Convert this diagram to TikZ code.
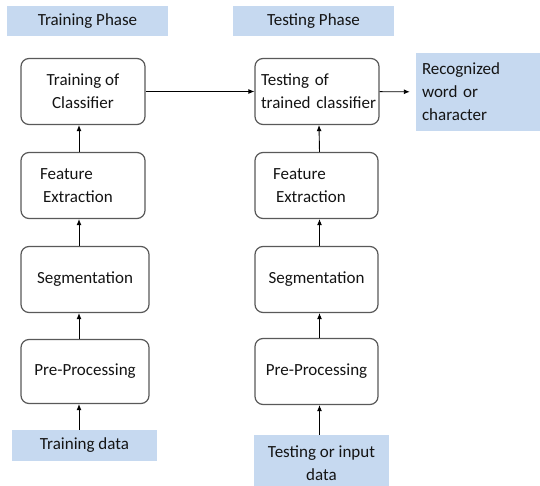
\documentclass[tikz,border=0pt]{standalone}
\usepackage{fontspec}
\setmainfont{Carlito}
\usepackage{tikz}
\usetikzlibrary{arrows.meta}

\definecolor{phaseblue}{RGB}{198,217,240}
\definecolor{boxline}{RGB}{89,89,89}
\definecolor{txt}{RGB}{20,20,20}

\tikzset{
  stepbox/.style={draw=boxline, line width=1.2pt, rounded corners=8pt, fill=white,
    minimum width=124pt, minimum height=66pt, align=center, text=txt,
    font=\fontsize{17}{23}\selectfont},
  phasebox/.style={fill=phaseblue, minimum width=161pt, minimum height=30pt,
    text=txt, font=\fontsize{17}{23}\selectfont},
  databox/.style={fill=phaseblue, align=center, text=txt,
    font=\fontsize{17}{23}\selectfont},
  flow/.style={-{Latex[length=6pt,width=5pt]}, line width=0.9pt, black}
}

\begin{document}
\begin{tikzpicture}[x=1pt, y=-1pt, node distance=94pt]
\useasboundingbox (0,0) rectangle (540,486);

\node [phasebox] (lphase) at (87.5,21) {Training Phase};
\node [phasebox] (rphase) at (313.5,21) {Testing Phase};

% training column
\node [stepbox] (ltrain) at (83,91.5) {Training of\\Classifier};
\node [stepbox, below of=ltrain, text width=86pt, inner xsep=19pt, align=left] (lfeat) {Feature\\\hspace*{3pt}Extraction};
\node [stepbox, below of=lfeat, xshift=2pt, minimum width=128pt] (lseg) {Segmentation};
\node [stepbox, below of=lseg, node distance=92pt, minimum width=128pt, minimum height=64pt] (lpre) {Pre-Processing};
\node [databox, minimum width=145pt, minimum height=31pt] (tdata) at (84.5,445.5) {Training data};

% testing column
\node [stepbox, text width=112pt, inner xsep=6pt, align=left] (rtest) at (317,91.5) {Testing of\\\mbox{trained classifier}};
\node [stepbox, below of=rtest, xshift=-0.5pt, minimum width=123pt, text width=87pt, inner xsep=18pt, align=left] (rfeat) {Feature\\\hspace*{3pt}Extraction};
\node [stepbox, below of=rfeat, minimum width=123pt] (rseg) {Segmentation};
\node [stepbox, below of=rseg, node distance=92pt, minimum width=123pt] (rpre) {Pre-Processing};
\node [databox, minimum width=135pt, minimum height=56pt] (idata) at (321.5,463) {Testing or input\\data};

\node [databox, text width=112pt, inner xsep=6pt, minimum height=78pt, align=left] (rec) at (478,92) {Recognized\\word or\\character};

\draw [flow] ([xshift=-5.5pt]tdata.north) -- ([xshift=-6pt]lpre.south);
\draw [flow] ([xshift=-6pt]lpre.north) -- ([xshift=-6pt]lseg.south);
\draw [flow] ([xshift=-6pt]lseg.north) -- ([xshift=-4pt]lfeat.south);
\draw [flow] ([xshift=-4pt]lfeat.north) -- ([xshift=-4pt]ltrain.south);

\draw [flow] ([xshift=-2pt]idata.north) -- ([xshift=3pt]rpre.south);
\draw [flow] ([xshift=3pt]rpre.north) -- ([xshift=3pt]rseg.south);
\draw [flow] ([xshift=3pt]rseg.north) -- ([xshift=3pt]rfeat.south);
\draw [flow] ([xshift=3pt]rfeat.north) -- ([xshift=2pt]rtest.south);

\draw [flow] (ltrain) -- (rtest);
\draw [flow, shorten >=6pt] (rtest) -- (rec);
\end{tikzpicture}
\end{document}
